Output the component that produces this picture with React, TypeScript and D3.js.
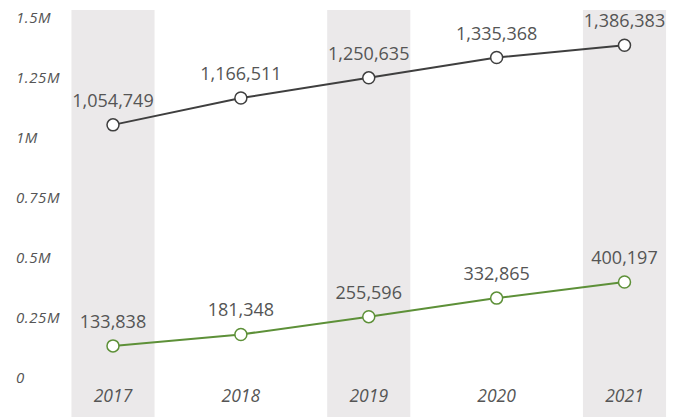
import React from "react";
import * as d3 from "d3";

const years = ["2017", "2018", "2019", "2020", "2021"];
const totalSeries = [1054749, 1166511, 1250635, 1335368, 1386383];
const greenSeries = [133838, 181348, 255596, 332865, 400197];
const yTicks = [0, 250000, 500000, 750000, 1000000, 1250000, 1500000];
const yTickLabels = ["0", "0.25M", "0.5M", "0.75M", "1M", "1.25M", "1.5M"];
const shadedYears = ["2017", "2019", "2021"];

const W = 677;
const H = 417;

export default function App() {
  const x = d3.scalePoint<string>().domain(years).range([113, 624.5]);
  const step = x.step();
  const bandW = step * 0.65;
  const y = d3.scaleLinear().domain([0, 1500000]).range([378, 18]);
  const fmt = d3.format(",");
  const font = "'Open Sans', 'DejaVu Sans', sans-serif";

  const lineGen = (vals: number[]) =>
    d3
      .line<number>()
      .x((_, i) => x(years[i]) as number)
      .y((v) => y(v))(vals) as string;

  const series = [
    { vals: totalSeries, color: "#3f3f3f" },
    { vals: greenSeries, color: "#5d9038" },
  ];

  return (
    <svg
      width={W}
      height={H}
      style={{ position: "absolute", left: 0, top: 0, display: "block", background: "#fff" }}
    >
      {shadedYears.map((yr) => (
        <rect
          key={yr}
          x={(x(yr) as number) - bandW / 2}
          y={10}
          width={bandW}
          height={H - 10}
          fill="#ebe9ea"
        />
      ))}
      {yTicks.map((t, i) => (
        <text
          key={t}
          x={16}
          y={y(t)}
          dy="0.35em"
          fontSize={15}
          letterSpacing={0.6}
          fontStyle="italic"
          fill="#555"
          fontFamily={font}
        >
          {yTickLabels[i]}
        </text>
      ))}
      {years.map((yr) => (
        <text
          key={yr}
          x={x(yr) as number}
          y={402}
          textAnchor="middle"
          fontSize={17.5}
          fontStyle="italic"
          fill="#555"
          fontFamily={font}
        >
          {yr}
        </text>
      ))}
      {series.map((s, si) => (
        <g key={si}>
          <path d={lineGen(s.vals)} fill="none" stroke={s.color} strokeWidth={2} />
          {s.vals.map((v, i) => (
            <circle
              key={i}
              cx={x(years[i]) as number}
              cy={y(v)}
              r={6}
              fill="#fff"
              stroke={s.color}
              strokeWidth={1.5}
            />
          ))}
          {s.vals.map((v, i) => (
            <text
              key={"l" + i}
              x={x(years[i]) as number}
              y={y(v) - 18}
              textAnchor="middle"
              fontSize={18}
              fill="#555"
              fontFamily={font}
            >
              {fmt(v)}
            </text>
          ))}
        </g>
      ))}
    </svg>
  );
}
